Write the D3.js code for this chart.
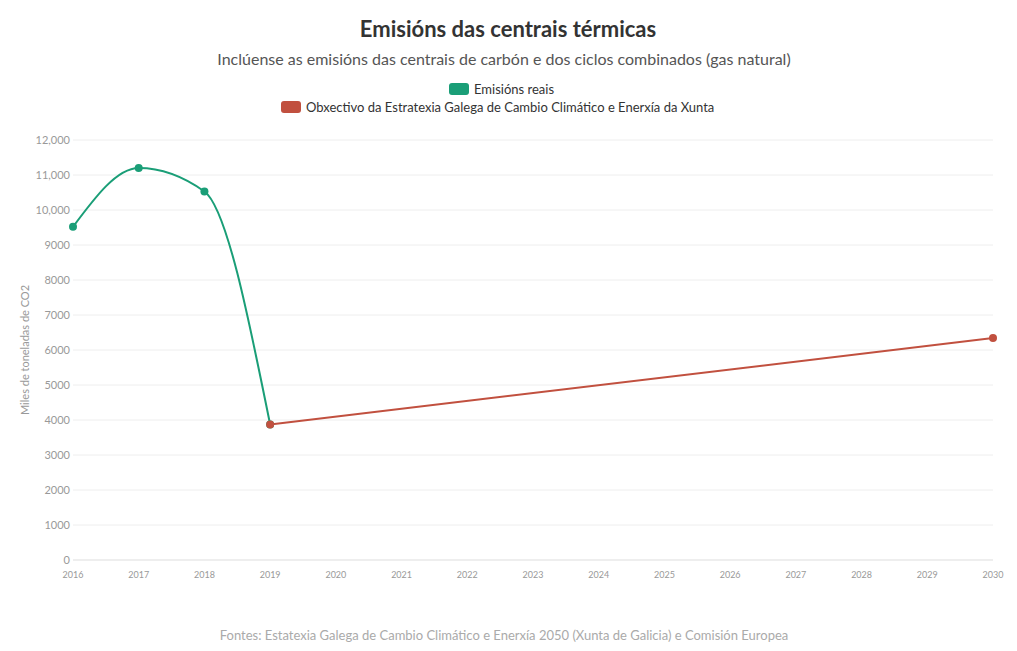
<!DOCTYPE html>
<html><head><meta charset="utf-8">
<script src="https://cdn.jsdelivr.net/npm/d3@7"></script>
<style>body{margin:0;background:#fff;font-family:"Source Sans Pro",Lato,"Noto Sans",sans-serif;}</style>
</head><body>
<svg id="chart" width="1017" height="651"></svg>
<script>
const realYears = [2016, 2017, 2018, 2019];
const realValues = [9520, 11200, 10530, 3870];
const targetYears = [2019, 2030];
const targetValues = [3870, 6340];
const yTicks = [0,1000,2000,3000,4000,5000,6000,7000,8000,9000,10000,11000,12000];
const xTicks = d3.range(2016, 2031);
const green = "#1a9e77", red = "#c1503f";

const svg = d3.select("#chart");
const x = d3.scaleLinear().domain([2016, 2030]).range([73, 993]);
const y = d3.scaleLinear().domain([0, 12000]).range([560, 140]);
const fmt = v => v >= 10000 ? d3.format(",")(v) : String(v);

svg.append("text").attr("x", 508).attr("y", 37).attr("text-anchor", "middle")
  .attr("font-size", 22).attr("font-weight", "bold").attr("fill", "#333").text("Emisións das centrais térmicas");
svg.append("text").attr("x", 504).attr("y", 65).attr("text-anchor", "middle")
  .attr("font-size", 16).attr("fill", "#555").text("Inclúense as emisións das centrais de carbón e dos ciclos combinados (gas natural)");

// legend
const leg = [[449, 89, green, "Emisións reais"], [281, 107, red, "Obxectivo da Estratexia Galega de Cambio Climático e Enerxía da Xunta"]];
leg.forEach(([lx, ly, c, t]) => {
  svg.append("rect").attr("x", lx).attr("y", ly - 6).attr("width", 20).attr("height", 12).attr("rx", 3).attr("fill", c);
  svg.append("text").attr("x", lx + 25).attr("y", ly + 5).attr("font-size", 13).attr("fill", "#333").text(t);
});

// grid + y axis
svg.append("g").selectAll("line").data(yTicks).join("line")
  .attr("x1", 73).attr("x2", 993).attr("y1", d => y(d)).attr("y2", d => y(d))
  .attr("stroke", d => d === 0 ? "#ddd" : "#eee");
svg.append("g").selectAll("text").data(yTicks).join("text")
  .attr("x", 70).attr("y", d => y(d) + 4).attr("text-anchor", "end")
  .attr("font-size", 11).attr("fill", "#999").text(fmt);
svg.append("g").selectAll("text").data(xTicks).join("text")
  .attr("x", d => x(d)).attr("y", 578).attr("text-anchor", "middle")
  .attr("font-size", 9).attr("fill", "#999").text(d => d);
svg.append("text").attr("transform", "translate(29,350) rotate(-90)").attr("text-anchor", "middle")
  .attr("font-size", 11).attr("fill", "#999").text("Miles de toneladas de CO2");

// lines
const real = realYears.map((d, i) => [d, realValues[i]]);
const target = targetYears.map((d, i) => [d, targetValues[i]]);
svg.append("path").datum(real).attr("fill", "none").attr("stroke", green).attr("stroke-width", 2)
  .attr("d", d3.line().x(d => x(d[0])).y(d => y(d[1])).curve(d3.curveMonotoneX));
svg.append("path").datum(target).attr("fill", "none").attr("stroke", red).attr("stroke-width", 2)
  .attr("d", d3.line().x(d => x(d[0])).y(d => y(d[1])));
svg.append("g").selectAll("circle").data(real).join("circle")
  .attr("cx", d => x(d[0])).attr("cy", d => y(d[1])).attr("r", 4).attr("fill", green);
svg.append("g").selectAll("circle").data(target).join("circle")
  .attr("cx", d => x(d[0])).attr("cy", d => y(d[1])).attr("r", 4).attr("fill", red);

svg.append("text").attr("x", 504).attr("y", 640).attr("text-anchor", "middle")
  .attr("font-size", 13).attr("fill", "#aaa").text("Fontes: Estatexia Galega de Cambio Climático e Enerxía 2050 (Xunta de Galicia) e Comisión Europea");
</script>
</body></html>
